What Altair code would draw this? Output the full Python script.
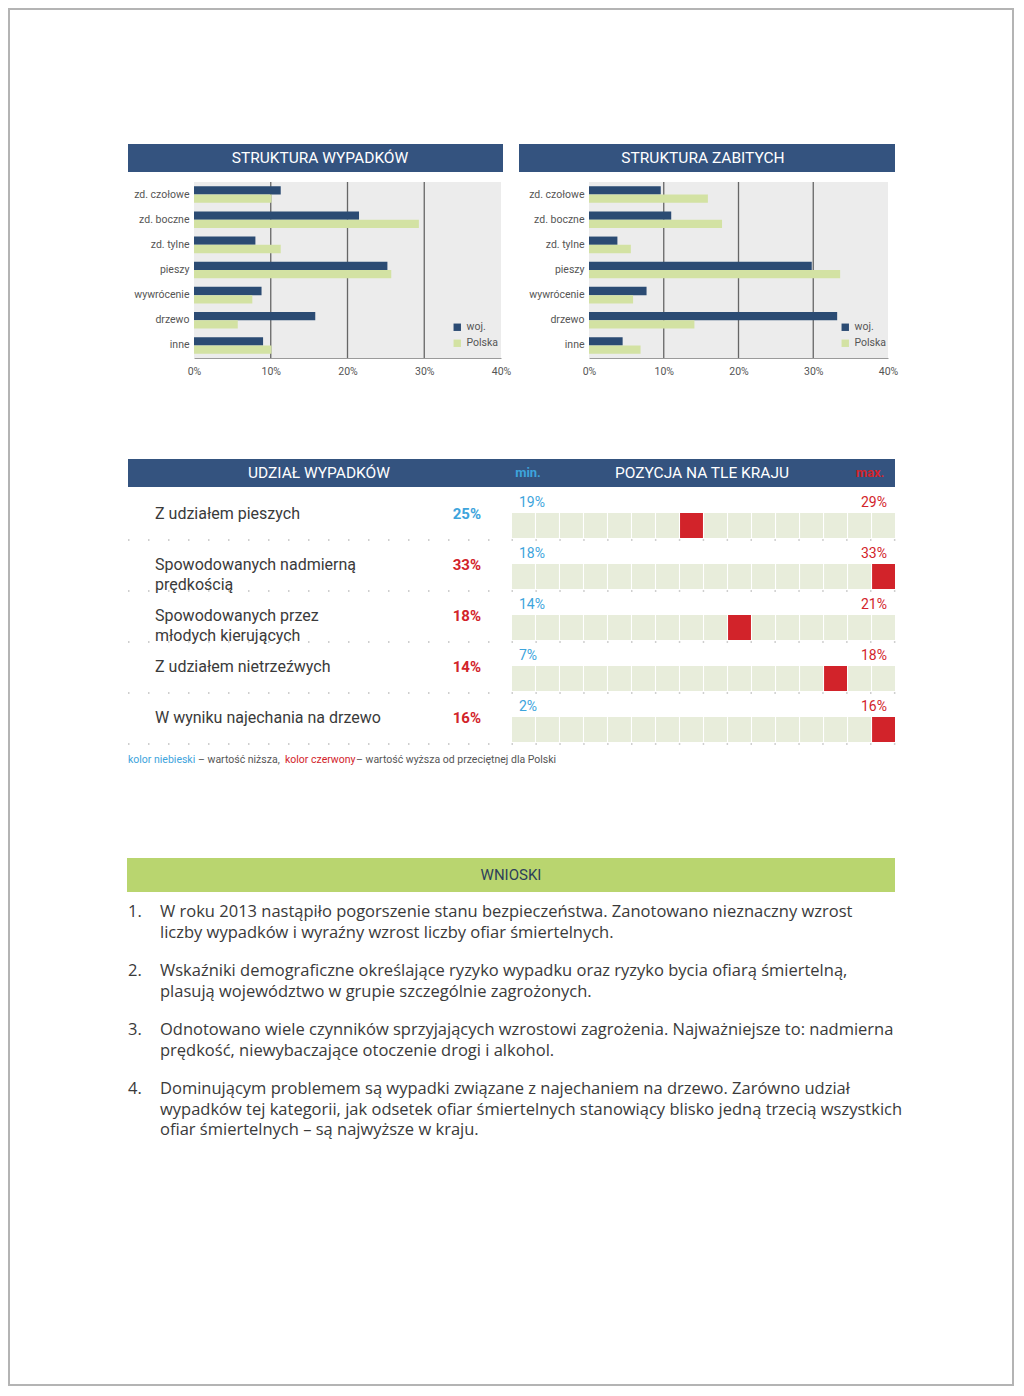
import altair as alt
import pandas as pd

FONT = "Roboto"
BODY_FONT = "Open Sans"
HDR = "#34537f"
WOJ = "#2b4b73"
PL = "#d3e2a3"
PLOT_BG = "#ececec"
GRID = "#666666"
RED = "#d2232a"
LBLUE = "#3da4dc"
BEIGE = "#e8eddb"
GREENBAND = "#b9d56f"
TXT = "#3a3a3a"
AX = "#555555"

# ---------------- data ----------------
categories = ["zd. czołowe", "zd. boczne", "zd. tylne", "pieszy", "wywrócenie", "drzewo", "inne"]
series = ["woj.", "Polska"]
wyp_woj = [11.3, 21.5, 8.0, 25.2, 8.8, 15.8, 9.0]
wyp_pl = [10.1, 29.3, 11.3, 25.7, 7.6, 5.7, 10.1]
zab_woj = [9.6, 11.0, 3.8, 29.8, 7.7, 33.2, 4.5]
zab_pl = [15.9, 17.8, 5.6, 33.6, 5.9, 14.1, 6.9]
x_ticks = [0, 0.1, 0.2, 0.3, 0.4]
grid_lines = [0.1, 0.2, 0.3]

udzial_labels = ["Z udziałem pieszych", "Spowodowanych nadmierną\nprędkością",
                 "Spowodowanych przez\nmłodych kierujących", "Z udziałem nietrzeźwych",
                 "W wyniku najechania na drzewo"]
udzial_vals = [25, 33, 18, 14, 16]
udzial_kolor = ["niższa", "wyższa", "wyższa", "wyższa", "wyższa"]
kraj_min = [19, 18, 14, 7, 2]
kraj_max = [29, 33, 21, 18, 16]
pozycja = [8, 16, 10, 14, 16]
n_woj = 16

wnioski_nr = ["1.", "2.", "3.", "4."]
wnioski = [
    "W roku 2013 nastąpiło pogorszenie stanu bezpieczeństwa. Zanotowano nieznaczny wzrost\nliczby wypadków i wyraźny wzrost liczby ofiar śmiertelnych.",
    "Wskaźniki demograficzne określające ryzyko wypadku oraz ryzyko bycia ofiarą śmiertelną,\nplasują województwo w grupie szczególnie zagrożonych.",
    "Odnotowano wiele czynników sprzyjających wzrostowi zagrożenia. Najważniejsze to:  nadmierna\nprędkość, niewybaczające otoczenie drogi i alkohol.",
    "Dominującym problemem są wypadki związane z najechaniem na drzewo. Zarówno udział\nwypadków tej kategorii, jak odsetek ofiar śmiertelnych stanowiący blisko jedną trzecią wszystkich\nofiar śmiertelnych – są najwyższe w kraju.",
]
legend_parts = ["kolor niebieski", "– wartość niższa,", "kolor czerwony", "– wartość wyższa od przeciętnej dla Polski"]
legend_colors = [LBLUE, "#555555", RED, "#555555"]


def one(t):
    return pd.DataFrame({"t": [t]})


def text_at(t, x, y, **kw):
    return alt.Chart(one(t)).mark_text(**kw).encode(x=alt.value(x), y=alt.value(y), text="t:N")


NOVIEW = alt.ViewBackground(stroke="transparent", strokeWidth=0)

# ---------------- row 1: two bar panels in one layered view ----------------
PH = 176


def bar_layer(woj, pl, x0, x1, leg_x, axis_offset):
    rows = []
    for c, a, b in zip(categories, woj, pl):
        rows.append({"kat": c, "seria": "woj.", "v": a / 100})
        rows.append({"kat": c, "seria": "Polska", "v": b / 100})
    df = pd.DataFrame(rows)
    xs = alt.Scale(domain=[0, 0.4], range=[x0, x1], nice=False)
    x_axis = alt.Axis(title=None, orient="bottom", format=".0%", values=x_ticks, grid=False, ticks=False,
                      domainColor="#9a9a9a", labelFontSize=10.5, labelColor=AX, labelPadding=8,
                      labelFont=FONT, labelFlush=False)
    bg = alt.Chart(pd.DataFrame({"a": [0.0], "b": [0.4]})).mark_rect(color=PLOT_BG).encode(
        x=alt.X("a:Q", scale=xs, axis=x_axis), x2="b:Q", y=alt.value(0), y2=alt.value(PH))
    grid = alt.Chart(pd.DataFrame({"g": grid_lines})).mark_rule(color=GRID, strokeWidth=1.3).encode(
        x=alt.X("g:Q", scale=xs, axis=x_axis), y=alt.value(0), y2=alt.value(PH))
    bars = alt.Chart(df).mark_bar().encode(
        x=alt.X("v:Q", scale=xs, axis=x_axis),
        y=alt.Y("kat:N", sort=categories, scale=alt.Scale(paddingInner=0.34, paddingOuter=0.17),
                axis=alt.Axis(title=None, orient="left", offset=axis_offset, ticks=False, domain=False,
                              labelFontSize=10.5, labelColor=AX, labelPadding=5, labelFont=FONT)),
        yOffset=alt.YOffset("seria:N", sort=series),
        color=alt.Color("seria:N", sort=series, scale=alt.Scale(domain=series, range=[WOJ, PL]),
                        legend=alt.Legend(title=None, orient="none", legendX=leg_x, legendY=140,
                                          symbolType="square", symbolSize=55, labelFontSize=10.5,
                                          labelColor=AX, labelFont=FONT, rowPadding=5,
                                          symbolStrokeWidth=0)),
    )
    return alt.layer(bg, grid, bars)


left = bar_layer(wyp_woj, wyp_pl, 0, 307, 258, 0)
right = bar_layer(zab_woj, zab_pl, 395, 694, 646, -395)

hdr1 = alt.Chart(one("")).mark_rect(color=HDR).encode(
    x=alt.value(-66), x2=alt.value(309), y=alt.value(-38), y2=alt.value(-10))
hdr2 = alt.Chart(one("")).mark_rect(color=HDR).encode(
    x=alt.value(325), x2=alt.value(701), y=alt.value(-38), y2=alt.value(-10))
hdr1_t = text_at("STRUKTURA WYPADKÓW", 126, -24, color="white", fontSize=15.5, font=FONT)
hdr2_t = text_at("STRUKTURA ZABITYCH", 509, -24, color="white", fontSize=15.5, font=FONT)
frame = alt.Chart(one("")).mark_rect(fillOpacity=0, stroke="#b4b4b4", strokeWidth=2).encode(
    x=alt.value(-185), x2=alt.value(819), y=alt.value(-173), y2=alt.value(1203))

row1 = alt.layer(frame, hdr1, hdr2, hdr1_t, hdr2_t, left, right).resolve_scale(
    x="independent", y="independent", yOffset="independent", color="independent"
).properties(width=694, height=PH, view=NOVIEW)

# ---------------- row 2: table + position grid ----------------
row_scale = alt.Scale(paddingInner=26 / 51, paddingOuter=13 / 51, range=[0, 255])
ROW_Y = alt.Y("r:O", scale=row_scale, axis=None)

df_t = pd.DataFrame({"r": list(range(5)), "label": udzial_labels,
                     "val": [f"{v}%" for v in udzial_vals], "kolor": udzial_kolor,
                     "mn": [f"{v}%" for v in kraj_min], "mx": [f"{v}%" for v in kraj_max]})

band = alt.Chart(one("")).mark_rect(color=HDR).encode(
    x=alt.value(-66), x2=alt.value(701), y=alt.value(-41), y2=alt.value(-13))
hdr_texts = [
    text_at("UDZIAŁ WYPADKÓW", 125, -27, color="white", fontSize=15.5, font=FONT),
    text_at("min.", 334, -27, color=LBLUE, fontSize=13, font=FONT, fontWeight="bold"),
    text_at("POZYCJA NA TLE KRAJU", 508, -27, color="white", fontSize=15.5, font=FONT),
    text_at("max.", 676, -27, color=RED, fontSize=13, font=FONT, fontWeight="bold"),
]

lab = alt.Chart(df_t).mark_text(align="left", baseline="middle", fontSize=16, font=FONT, color=TXT,
                                lineBreak="\n", lineHeight=20, dy=-11.5).encode(
    x=alt.value(-39), y=ROW_Y, text="label:N")
vals = alt.Chart(df_t).mark_text(align="right", baseline="middle", fontSize=15, font=FONT,
                                 fontWeight="bold", dy=-11.5).encode(
    x=alt.value(287), y=ROW_Y, text="val:N",
    color=alt.Color("kolor:N", scale=alt.Scale(domain=["niższa", "wyższa"], range=[LBLUE, RED]), legend=None))
sep = alt.Chart(df_t).mark_rule(color="#a0a0a0", strokeDash=[1.5, 18.5], strokeWidth=1.2, yOffset=14.5).encode(
    x=alt.value(-66), x2=alt.value(296), y=ROW_Y)

leg_x = [-66, 4, 91, 162]
leg_layers = [text_at(p, xx, 260, align="left", fontSize=10.5, font=FONT, color=c)
              for p, c, xx in zip(legend_parts, legend_colors, leg_x)]

cells = []
for r in range(5):
    for c in range(1, n_woj + 1):
        cells.append({"r": r, "c": c, "stan": "woj" if c == pozycja[r] else "inne"})
df_c = pd.DataFrame(cells)

grid_rect = alt.Chart(df_c).mark_rect().encode(
    x=alt.X("c:O", scale=alt.Scale(paddingInner=0.045, paddingOuter=0, range=[318, 701]), axis=None),
    y=ROW_Y,
    color=alt.Color("stan:N", scale=alt.Scale(domain=["inne", "woj"], range=[BEIGE, RED]), legend=None))
g_sep = alt.Chart(df_t).mark_rule(color="#a0a0a0", strokeDash=[1.5, 22.4], strokeWidth=1.2, yOffset=14.5).encode(
    x=alt.value(317.5), x2=alt.value(702), y=ROW_Y)
g_min = alt.Chart(df_t).mark_text(align="left", baseline="middle", fontSize=14, font=FONT, color=LBLUE, dy=-22.5).encode(
    x=alt.value(325), y=ROW_Y, text="mn:N")
g_max = alt.Chart(df_t).mark_text(align="right", baseline="middle", fontSize=14, font=FONT, color=RED, dy=-22.5).encode(
    x=alt.value(693), y=ROW_Y, text="mx:N")

row2 = alt.layer(band, *hdr_texts, sep, g_sep, lab, vals, grid_rect, g_min, g_max, *leg_layers).resolve_scale(
    color="independent").properties(width=701, height=262, view=NOVIEW)

# ---------------- row 3: wnioski ----------------
df_w = pd.DataFrame({"n": [1, 2, 3, 4], "nr": wnioski_nr, "txt": wnioski})
W_Y = alt.Y("n:O", scale=alt.Scale(type="point", padding=0), axis=None)
gband = alt.Chart(one("")).mark_rect(color=GREENBAND).encode(
    x=alt.value(-67), x2=alt.value(701), y=alt.value(-46), y2=alt.value(-12))
gband_t = text_at("WNIOSKI", 317, -29, color="#2d3f5a", fontSize=15, font=FONT)
w_nr = alt.Chart(df_w).mark_text(align="left", baseline="top", fontSize=16.5, font=BODY_FONT, color=TXT).encode(
    x=alt.value(-66), y=W_Y, text="nr:N")
w_txt = alt.Chart(df_w).mark_text(align="left", baseline="top", fontSize=16.5, font=BODY_FONT, color=TXT,
                                  lineBreak="\n", lineHeight=20.5).encode(
    x=alt.value(-34), y=W_Y, text="txt:N")
row3 = alt.layer(gband, gband_t, w_nr, w_txt).properties(width=701, height=177, view=NOVIEW)

chart = alt.vconcat(row1, row2, row3, spacing=142, bounds="flush").properties(
    padding=0).configure_view(stroke="transparent", strokeWidth=0).configure(font=FONT)

chart.save("out.html", embed_options={"renderer": "svg", "actions": False})
